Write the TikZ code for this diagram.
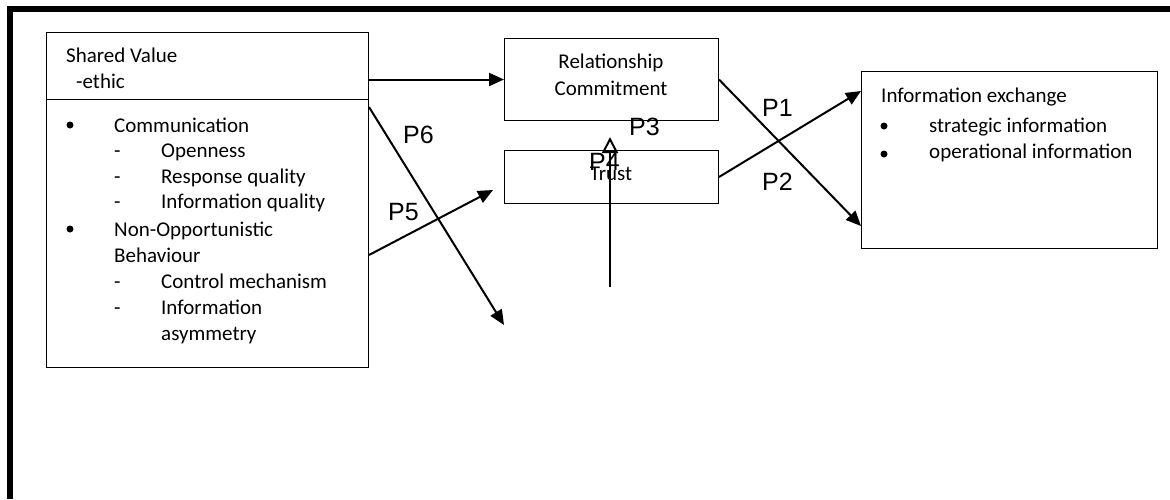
\documentclass[tikz,border=0pt]{standalone}
\usepackage{fontspec}
\setmainfont{Carlito}
\newfontfamily\plabelfont{Liberation Sans}
\usetikzlibrary{arrows.meta,positioning}
\tikzset{
  box/.style={rectangle,draw=black,line width=1pt,inner sep=0pt,anchor=north west},
  txt/.style={anchor=base west,inner sep=0pt,font=\fontsize{21}{26}\selectfont},
  ctxt/.style={anchor=base,inner sep=0pt,font=\fontsize{21}{26}\selectfont},
  plabel/.style={anchor=base west,inner sep=0pt,font=\plabelfont\fontsize{25}{30}\selectfont},
  arr/.style={-{Triangle[length=15pt,width=13pt]},line width=2pt},
  openarr/.style={-{Triangle[open,length=16pt,width=16pt]},line width=2pt},
  dot/.style={circle,fill=black,inner sep=0pt,minimum size=7pt},
}
\begin{document}
\begin{tikzpicture}[x=1pt,y=-1pt]
  \useasboundingbox (0,0) rectangle (1170,499);
  % frame
  \draw[line width=6pt] (10,499) -- (10,8.5) -- (1170,8.5);

  % left boxes
  \node[box, minimum width=322pt, minimum height=67pt]  (sv)   at (46,32) {};
  \node[box, minimum width=322pt, minimum height=268pt] (attr) at (46,99) {};
  \node[txt] (svname) at (66,62) {Shared Value};
  \node[txt] (ethic)  at (76,88) {-ethic};

  \node[dot] (b1) at (70,125) {};
  \node[txt] (comm) at (114,132) {Communication};
  \node[dot] (b2) at (70,229) {};
  \node[txt] (nonopp) at (114,236) {Non-Opportunistic};
  \node[txt] (behav)  at (114,262) {Behaviour};
  \foreach \t/\y/\n in {Openness/157/open, Response quality/183/resp,
      Information quality/208/infoq, Control mechanism/288/ctrl,
      Information/314/asym1, asymmetry/340/asym2} {
    \node[txt] (\n) at (161,\y) {\t};
  }
  \foreach \y/\n in {157/d1, 183/d2, 208/d3, 288/d4, 314/d5} {
    \node[txt] (\n) at (114,\y) {-};
  }

  % middle boxes
  \node[box, minimum width=214pt, minimum height=82pt] (rc)    at (504,38) {};
  \node[ctxt] (rc1) at (611,68) {Relationship};
  \node[ctxt] (rc2) at (611,95) {Commitment};
  \node[box, minimum width=214pt, minimum height=53pt] (trust) at (504,150) {};
  \node[ctxt] (trusttxt) at (611,180) {Trust};

  % right box
  \node[box, minimum width=296pt, minimum height=177pt] (ie) at (861,71) {};
  \node[txt] (ietitle) at (881,102) {Information exchange};
  \node[dot] (b3) at (884,126) {};
  \node[txt] (strat) at (929,132) {strategic information};
  \node[dot] (b4) at (884,154) {};
  \node[txt] (oper) at (929,158) {operational information};

  % loose ends
  \coordinate (p6end)   at (504,325);
  \coordinate (p5end)   at (493,190);
  \coordinate (upstart) at (610,287);
  \coordinate (upend)   at (610,137);

  \draw[arr] (sv.east |- rc.west) -- (rc.west);
  \draw[arr] ([yshift=-8pt]attr.north east) -- (p6end);
  \draw[arr] ([yshift=113pt]attr.south east) -- (p5end);
  \draw[openarr] (upstart) -- (upend);
  \draw[arr] (rc.east) -- ([yshift=23pt]ie.south west);
  \draw[arr] (trust.east) -- ([yshift=-20pt]ie.north west);

  \node[plabel] (p6) at (403,143) {P6};
  \node[plabel] (p5) at (388,220) {P5};
  \node[plabel] (p3) at (629,135) {P3};
  \node[plabel] (p4) at (589,170) {P4};
  \node[plabel] (p1) at (762,116) {P1};
  \node[plabel] (p2) at (762,190) {P2};
\end{tikzpicture}
\end{document}
